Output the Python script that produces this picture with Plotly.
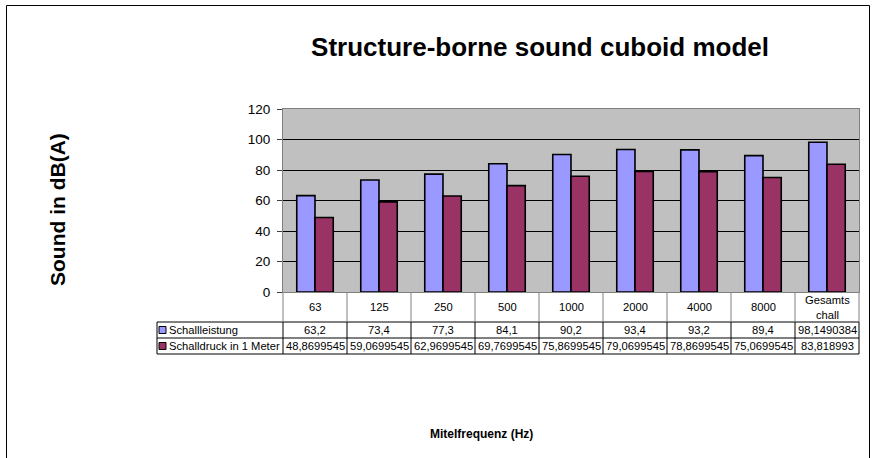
import plotly.graph_objects as go

# ---------------- data ----------------
categories = ["63", "125", "250", "500", "1000", "2000", "4000", "8000", "Gesamts<br>chall"]
schallleistung = [63.2, 73.4, 77.3, 84.1, 90.2, 93.4, 93.2, 89.4, 98.1490384]
schalldruck = [48.8699545, 59.0699545, 62.9699545, 69.7699545, 75.8699545,
               79.0699545, 78.8699545, 75.0699545, 83.818993]
series_names = ["Schallleistung", "Schalldruck in 1 Meter"]
y_ticks = [0, 20, 40, 60, 80, 100, 120]

# ---------------- layout constants (pixels) ----------------
W, H = 875, 458
ML, MR, MT, MB = 283, 16, 109, 166
PW = W - ML - MR
PH = H - MT - MB
FONT = "Liberation Sans, Arial, sans-serif"
C1, C2 = "#9999FF", "#993366"


def px(x):
    return (x - ML) / PW


def py(y):
    return (H - MB - y) / PH


xcat = list(range(len(categories)))

fig = go.Figure()
fig.add_trace(go.Bar(x=xcat, y=schallleistung, name=series_names[0],
                     marker=dict(color=C1, line=dict(color="black", width=1.6))))
fig.add_trace(go.Bar(x=xcat, y=schalldruck, name=series_names[1],
                     marker=dict(color=C2, line=dict(color="black", width=1.6))))

# table geometry
row_top = H - MB          # 292
hdr_bot = row_top + 30    # 322
r1_bot = hdr_bot + 16     # 338
r2_bot = r1_bot + 16      # 354
tab_left = 157

shapes = []
black = dict(color="black", width=1)
grey = dict(color="#808080", width=1)
for yy in (hdr_bot, r1_bot, r2_bot):
    shapes.append(dict(type="line", xref="paper", yref="paper",
                       x0=px(tab_left), x1=1, y0=py(yy), y1=py(yy), line=black))
shapes.append(dict(type="line", xref="paper", yref="paper",
                   x0=px(tab_left), x1=px(tab_left), y0=py(hdr_bot), y1=py(r2_bot), line=black))
shapes.append(dict(type="line", xref="paper", yref="paper",
                   x0=0, x1=0, y0=py(row_top), y1=py(hdr_bot), line=grey))
shapes.append(dict(type="line", xref="paper", yref="paper",
                   x0=0, x1=0, y0=py(hdr_bot), y1=py(r2_bot), line=black))
shapes.append(dict(type="line", xref="paper", yref="paper",
                   x0=1, x1=1, y0=py(row_top), y1=py(hdr_bot), line=grey))
shapes.append(dict(type="line", xref="paper", yref="paper",
                   x0=1, x1=1, y0=py(hdr_bot), y1=py(r2_bot), line=black))
for i in range(len(categories) - 1):
    shapes.append(dict(type="line", xref="x", yref="paper",
                       x0=i + 0.5, x1=i + 0.5, y0=py(row_top), y1=py(hdr_bot), line=grey))
    shapes.append(dict(type="line", xref="x", yref="paper",
                       x0=i + 0.5, x1=i + 0.5, y0=py(hdr_bot), y1=py(r2_bot), line=black))
for yy, col in ((hdr_bot + 8, C1), (r1_bot + 8, C2)):
    shapes.append(dict(type="rect", xref="paper", yref="paper",
                       x0=px(159), x1=px(166), y0=py(yy - 3.5), y1=py(yy + 3.5),
                       fillcolor=col, line=dict(color="black", width=1)))
shapes.append(dict(type="rect", xref="paper", yref="paper",
                   x0=px(6.5), x1=px(869.5), y0=py(5.5), y1=py(470),
                   fillcolor="rgba(0,0,0,0)", line=dict(color="black", width=1)))

annotations = []
tfont = dict(family=FONT, size=11.2, color="black")
for i, c in enumerate(categories):
    annotations.append(dict(x=i, xref="x", y=py((row_top + hdr_bot) / 2), yref="paper",
                            text=c, showarrow=False, font=tfont,
                            xanchor="center", yanchor="middle"))
    annotations.append(dict(x=i, xref="x", y=py((hdr_bot + r1_bot) / 2), yref="paper",
                            text=str(schallleistung[i]).replace(".", ","), showarrow=False,
                            font=tfont, xanchor="center", yanchor="middle"))
    annotations.append(dict(x=i, xref="x", y=py((r1_bot + r2_bot) / 2), yref="paper",
                            text=str(schalldruck[i]).replace(".", ","), showarrow=False,
                            font=tfont, xanchor="center", yanchor="middle"))
annotations.append(dict(x=px(167), xref="paper", y=py((hdr_bot + r1_bot) / 2), yref="paper",
                        text=series_names[0], showarrow=False, font=tfont,
                        xanchor="left", yanchor="middle"))
annotations.append(dict(x=px(167), xref="paper", y=py((r1_bot + r2_bot) / 2), yref="paper",
                        text=series_names[1], showarrow=False, font=tfont,
                        xanchor="left", yanchor="middle"))
annotations.append(dict(x=px(57), xref="paper", y=py(210), yref="paper",
                        text="Sound in dB(A)", textangle=-90, showarrow=False,
                        font=dict(family=FONT, size=21, color="black", weight="bold"),
                        xanchor="center", yanchor="middle"))
annotations.append(dict(x=px(481), xref="paper", y=py(434), yref="paper",
                        text="Mitelfrequenz (Hz)", showarrow=False,
                        font=dict(family=FONT, size=12, color="black", weight="bold"),
                        xanchor="center", yanchor="middle"))

fig.update_layout(
    width=W, height=H, autosize=False,
    margin=dict(l=ML, r=MR, t=MT, b=MB, pad=0),
    paper_bgcolor="white", plot_bgcolor="#C0C0C0",
    barmode="group", bargap=0.43, bargroupgap=0,
    showlegend=False,
    title=dict(text="Structure-borne sound cuboid model", x=540 / W, y=1 - 47 / H,
               xanchor="center", yanchor="middle",
               font=dict(family=FONT, size=26, color="black", weight="bold")),
    xaxis=dict(range=[-0.5, len(categories) - 0.5], showticklabels=False, ticks="",
               showgrid=False, zeroline=False, showline=True, linecolor="#808080",
               linewidth=1, mirror=True, fixedrange=True),
    yaxis=dict(range=[0, 120], tickvals=y_ticks, ticks="outside", ticklen=5,
               tickcolor="#404040", tickwidth=1, showgrid=True, gridcolor="black",
               gridwidth=1, zeroline=True, zerolinecolor="black", zerolinewidth=1,
               showline=True, linecolor="#808080", linewidth=1, mirror=True,
               ticklabelstandoff=4,
               tickfont=dict(family=FONT, size=13.5, color="black"), fixedrange=True),
    shapes=shapes, annotations=annotations,
)

fig.write_html("out.html", config={"displayModeBar": False},
               post_script="document.body.style.margin='0';")
